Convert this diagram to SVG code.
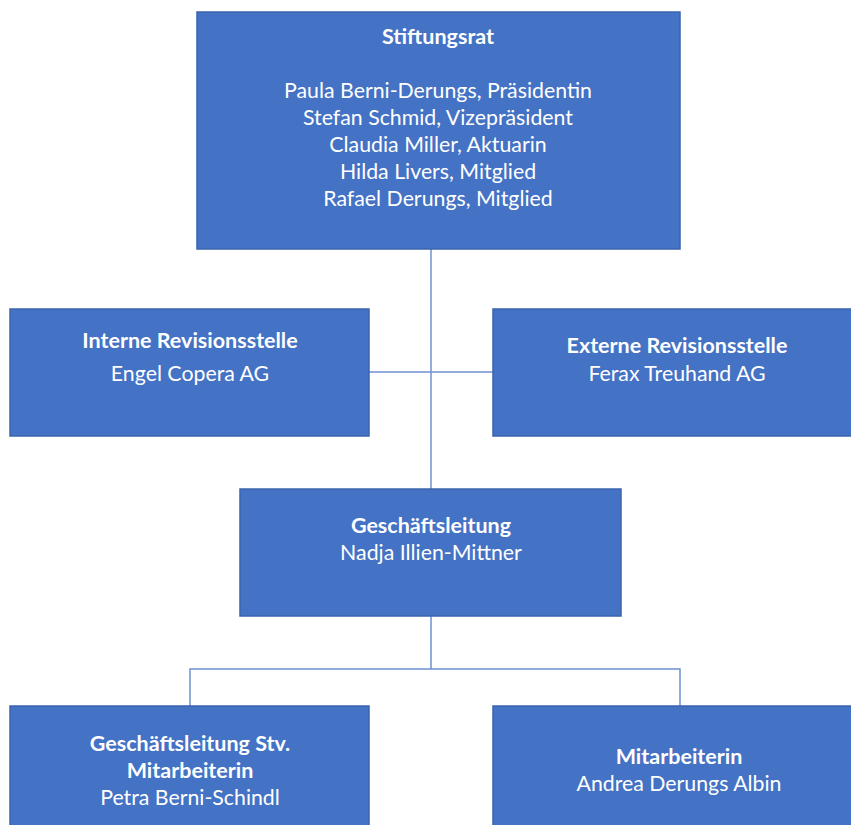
<svg xmlns="http://www.w3.org/2000/svg" width="851" height="825" viewBox="0 0 851 825">
<style>
.box{fill:#4472c4;stroke:#3a64ad;stroke-width:1.5}
.t{font-family:Lato,"Open Sans","Liberation Sans",sans-serif;font-size:21.3px;fill:#ffffff;text-anchor:middle}
.b{font-weight:bold;font-size:21.5px}
.c{fill:none;stroke:#6f90d2;stroke-width:1.5}
</style>
<rect width="851" height="825" fill="#ffffff"/>
<g id="connectors">
<path class="c" d="M431 249V489"/>
<path class="c" d="M369 372H493"/>
<path class="c" d="M431 616V669M190 706V669H680V706"/>
</g>
<g id="stiftungsrat">
<rect class="box" x="197" y="12" width="483" height="237"/>
<text class="t b" x="438" y="44">Stiftungsrat</text>
<text class="t" x="438" y="98">Paula Berni-Derungs, Präsidentin</text>
<text class="t" x="438" y="125">Stefan Schmid, Vizepräsident</text>
<text class="t" x="438" y="152">Claudia Miller, Aktuarin</text>
<text class="t" x="438" y="179">Hilda Livers, Mitglied</text>
<text class="t" x="438" y="206">Rafael Derungs, Mitglied</text>
</g>
<g id="interne">
<rect class="box" x="10" y="309" width="359" height="127"/>
<text class="t b" x="190" y="348">Interne Revisionsstelle</text>
<text class="t" x="190" y="381">Engel Copera AG</text>
</g>
<g id="externe">
<rect class="box" x="493" y="309" width="372" height="127"/>
<text class="t b" x="677" y="353">Externe Revisionsstelle</text>
<text class="t" x="677" y="381">Ferax Treuhand AG</text>
</g>
<g id="geschaeftsleitung">
<rect class="box" x="240" y="489" width="381" height="127"/>
<text class="t b" x="431" y="533">Geschäftsleitung</text>
<text class="t" x="431" y="560">Nadja Illien-Mittner</text>
</g>
<g id="stv">
<rect class="box" x="10" y="706" width="359" height="130"/>
<text class="t b" x="190" y="751">Geschäftsleitung Stv.</text>
<text class="t b" x="190" y="778">Mitarbeiterin</text>
<text class="t" x="190" y="805">Petra Berni-Schindl</text>
</g>
<g id="mitarbeiterin">
<rect class="box" x="493" y="706" width="372" height="130"/>
<text class="t b" x="679" y="764">Mitarbeiterin</text>
<text class="t" x="679" y="791">Andrea Derungs Albin</text>
</g>
</svg>
